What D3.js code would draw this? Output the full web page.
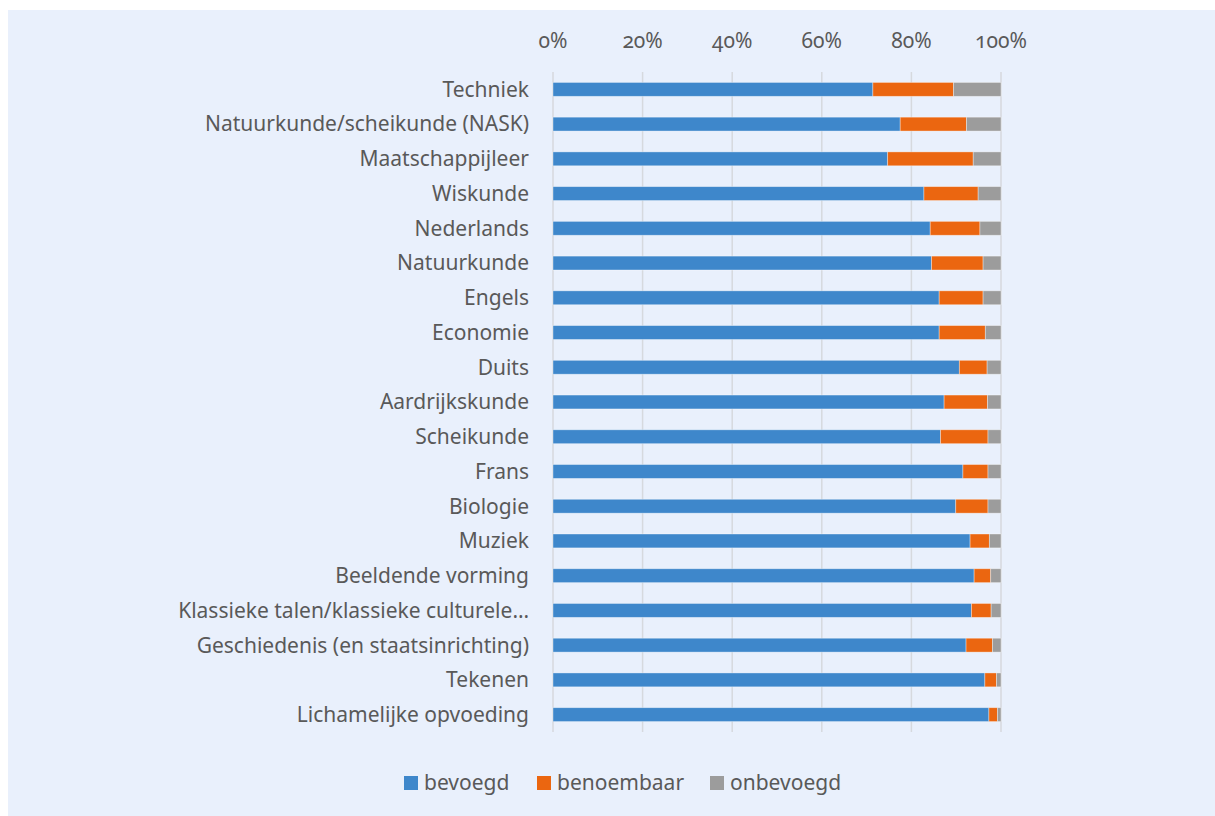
<!DOCTYPE html>
<html lang="nl">
  <head>
    <meta charset="UTF-8">
    <script src="https://cdn.jsdelivr.net/npm/d3@7"></script>
    <style>
      body { margin: 0; background: #fff; }
      text { font-family: 'Noto Sans', sans-serif; fill: #595959; }
    </style>
    <title>Bevoegdheid per vak</title>
  </head>
  <body>
    <script>
      // 100% stacked horizontal bars, one row per vak

      const w = 1215;
      const h = 816;

      const vakken = ['Techniek', 'Natuurkunde/scheikunde (NASK)', 'Maatschappijleer', 'Wiskunde',
        'Nederlands', 'Natuurkunde', 'Engels', 'Economie', 'Duits', 'Aardrijkskunde', 'Scheikunde',
        'Frans', 'Biologie', 'Muziek', 'Beeldende vorming', 'Klassieke talen/klassieke culturele…',
        'Geschiedenis (en staatsinrichting)', 'Tekenen', 'Lichamelijke opvoeding'];

      const bevoegd    = [71.4, 77.5, 74.7, 82.8, 84.2, 84.5, 86.2, 86.2, 90.7, 87.3, 86.5, 91.5, 89.9, 93.1, 94.0, 93.4, 92.2, 96.4, 97.3];
      const benoembaar = [18.0, 14.8, 19.1, 12.1, 11.1, 11.5,  9.8, 10.3,  6.2,  9.7, 10.6,  5.6,  7.2,  4.3,  3.7,  4.4,  5.9,  2.6,  1.9];
      const onbevoegd  = [10.6,  7.7,  6.2,  5.1,  4.7,  4.0,  4.0,  3.5,  3.1,  3.0,  2.9,  2.9,  2.9,  2.6,  2.3,  2.2,  1.9,  1.0,  0.8];

      const series = ['bevoegd', 'benoembaar', 'onbevoegd'];
      const colors = ['#3e87cb', '#eb6610', '#9c9c9c'];
      const ticks = [0, 20, 40, 60, 80, 100];

      const rows = vakken.map((v, i) => ({
        vak: v, bevoegd: bevoegd[i], benoembaar: benoembaar[i], onbevoegd: onbevoegd[i]
      }));

      const stacked = d3.stack().keys(series)
        .offset(d3.stackOffsetExpand)(rows);

      const x = d3.scaleLinear().domain([0, 1]).range([553, 1001]);
      const y = d3.scaleBand().domain(vakken).range([72, 732]).paddingInner(0.6).paddingOuter(0.3);
      const color = d3.scaleOrdinal().domain(series).range(colors);

      const svg = d3.select('body').append('svg')
        .attr('width', w)
        .attr('height', h);

      svg.append('rect')
        .attr('x', 8).attr('y', 10)
        .attr('width', w - 8).attr('height', h - 10)
        .attr('fill', '#e9f0fc');

      // gridlines
      svg.append('g')
        .selectAll('line')
        .data(ticks)
        .enter()
        .append('line')
        .attr('x1', d => x(d / 100)).attr('x2', d => x(d / 100))
        .attr('y1', 72).attr('y2', 732)
        .attr('stroke', '#d6d9de')
        .attr('stroke-width', 1.5);

      // top axis labels
      svg.append('g')
        .selectAll('text')
        .data(ticks)
        .enter()
        .append('text')
        .text(d => d + '%')
        .attr('x', d => x(d / 100))
        .attr('y', 48)
        .attr('text-anchor', 'middle')
        .attr('font-size', 21)
        .style('font-variant-numeric', 'oldstyle-nums');

      // bars
      svg.append('g')
        .selectAll('g')
        .data(stacked)
        .enter()
        .append('g')
        .attr('fill', d => color(d.key))
        .selectAll('rect')
        .data(d => d)
        .enter()
        .append('rect')
        .attr('x', d => x(d[0]))
        .attr('y', d => y(d.data.vak))
        .attr('width', d => x(d[1]) - x(d[0]))
        .attr('height', y.bandwidth())
        .attr('stroke', '#ffffff')
        .attr('stroke-opacity', 0.45)
        .attr('stroke-width', 0.8);

      // category labels
      svg.append('g')
        .selectAll('text')
        .data(vakken)
        .enter()
        .append('text')
        .text(d => d)
        .attr('x', 529)
        .attr('y', d => y(d) + y.bandwidth() / 2)
        .attr('dy', '0.35em')
        .attr('text-anchor', 'end')
        .attr('font-size', 21);

      // legend
      const legX = [404, 537, 710];
      const leg = svg.append('g')
        .selectAll('g')
        .data(series)
        .enter()
        .append('g')
        .attr('transform', (d, i) => `translate(${legX[i]},776)`);

      leg.append('rect')
        .attr('width', 14).attr('height', 14)
        .attr('fill', d => color(d));

      leg.append('text')
        .text(d => d)
        .attr('x', 20)
        .attr('y', 7)
        .attr('dy', '0.35em')
        .attr('font-size', 21);
    </script>
  </body>
</html>
